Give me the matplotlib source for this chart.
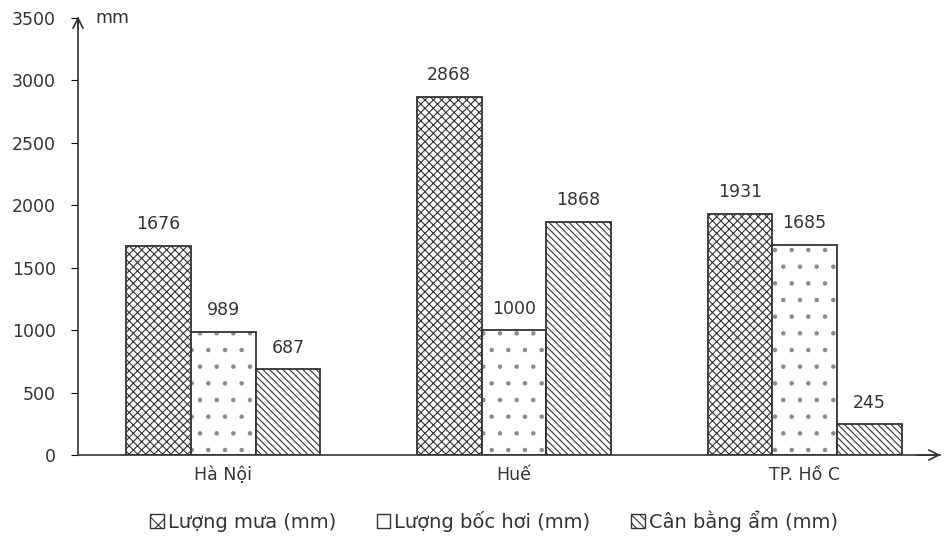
import matplotlib.pyplot as plt
from matplotlib.patches import Patch
import numpy as np

plt.rcParams['font.family'] = ['DejaVu Sans']
plt.rcParams['hatch.linewidth'] = 0.8

cities = ['Hà Nội', 'Huế', 'TP. Hồ C']
luong_mua = [1676, 2868, 1931]
boc_hoi = [989, 1000, 1685]
can_bang = [687, 1868, 245]
series_names = ['Lượng mưa (mm)', 'Lượng bốc hơi (mm)', 'Cân bằng ẩm (mm)']
yticks = [0, 500, 1000, 1500, 2000, 2500, 3000, 3500]

fig = plt.figure(figsize=(9.44, 5.44), dpi=100)
ax = fig.add_axes([78 / 944, 1 - 455 / 544, (940 - 78) / 944, (455 - 18) / 544])

x = np.arange(len(cities))
w = 0.2224
hatches = ['xxxx', '.', '\\\\\\\\\\']
hatch_colors = ['#333333', '#8a8a8a', '#333333']
edge = '#333333'
for i, vals in enumerate([luong_mua, boc_hoi, can_bang]):
    pos = x + (i - 1) * w
    # hatch fill first, then the outline on top
    ax.bar(pos, vals, w, color='white', edgecolor=hatch_colors[i], hatch=hatches[i], linewidth=0)
    bars = ax.bar(pos, vals, w, fill=False, edgecolor=edge, linewidth=1.3)
    for b, v in zip(bars, vals):
        ax.annotate(str(v), (b.get_x() + b.get_width() / 2, v), xytext=(0, 9),
                    textcoords='offset points', ha='center', va='bottom',
                    fontsize=12.5, color='#333333')

ax.set_xlim(-0.5, 2.466)
ax.set_ylim(0, 3500)
ax.set_yticks(yticks)
ax.set_yticklabels([str(t) for t in yticks], fontsize=12.5, color='#333333')
ax.set_xticks(x)
ax.set_xticklabels(cities, fontsize=12.5, color='#333333')
ax.tick_params(axis='x', length=0, pad=8)
ax.tick_params(axis='y', length=5, direction='out', pad=11)

for s in ['top', 'right']:
    ax.spines[s].set_visible(False)
ax.spines['left'].set_color('#333333')
ax.spines['bottom'].set_color('#333333')
ax.spines['left'].set_linewidth(1.2)
ax.spines['bottom'].set_linewidth(1.2)

# arrow heads on the axes
ax.annotate('', xy=(0, 1.01), xycoords='axes fraction', xytext=(0, 0.97),
            arrowprops=dict(arrowstyle='->', color='#333333', lw=1.2, mutation_scale=18))
ax.annotate('', xy=(1.004, 0), xycoords='axes fraction', xytext=(0.97, 0),
            arrowprops=dict(arrowstyle='->', color='#333333', lw=1.2, mutation_scale=18))
ax.text(0.02, 1.0, 'mm', transform=ax.transAxes, fontsize=12.5, color='#333333',
        va='center', ha='left')

handles = [Patch(facecolor='white', edgecolor=edge, hatch='xx', label=series_names[0]),
           Patch(facecolor='white', edgecolor=edge, label=series_names[1]),
           Patch(facecolor='white', edgecolor=edge, hatch='\\\\\\\\', label=series_names[2])]
fig.legend(handles=handles, loc='center', bbox_to_anchor=(494 / 944, 1 - 521 / 544), ncol=3,
           frameon=False, fontsize=14, handlelength=0.7, handleheight=0.7,
           handletextpad=0.2, columnspacing=2.1, labelcolor='#333333')

fig.savefig('out.png', dpi=100)
